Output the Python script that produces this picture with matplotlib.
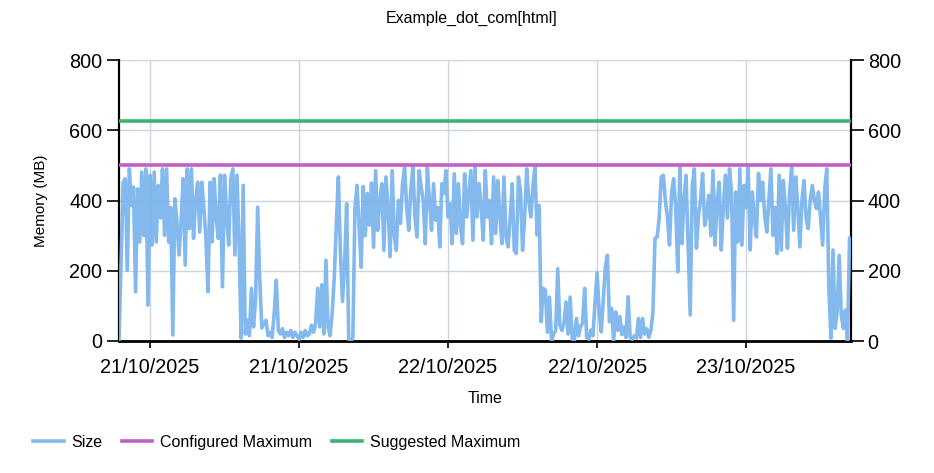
import matplotlib
matplotlib.use("Agg")
import matplotlib.pyplot as plt
import matplotlib.dates as mdates
import pandas as pd

plt.rcParams['font.family'] = ['Liberation Sans', 'DejaVu Sans']

title = "Example_dot_com[html]"
start_time = "2025-10-20 21:30"
interval = "10min"
configured_max = 500
suggested_max = 625

size_values = [
    5, 230, 450, 462, 201, 490, 386, 438, 140, 433, 282, 481,
    300, 490, 102, 472, 273, 481, 282, 443, 350, 490, 301, 490,
    282, 380, 17, 405, 339, 245, 339, 462, 216, 490, 320, 490,
    292, 400, 452, 310, 452, 380, 292, 140, 452, 282, 462, 350,
    292, 472, 154, 472, 360, 273, 462, 490, 245, 472, 282, 8,
    443, 20, 60, 15, 150, 40, 120, 381, 178, 37, 50, 59,
    15, 25, 10, 80, 173, 30, 20, 35, 10, 25, 15, 30,
    10, 25, 15, 5, 25, 10, 30, 15, 20, 45, 25, 50,
    150, 40, 160, 20, 230, 40, 15, 80, 178, 330, 467, 250,
    112, 216, 391, 5, 0, 10, 377, 443, 330, 210, 440, 300,
    420, 330, 450, 267, 485, 315, 400, 448, 258, 467, 380, 240,
    485, 300, 258, 400, 335, 448, 495, 380, 315, 430, 495, 353,
    296, 485, 440, 400, 277, 495, 400, 315, 448, 344, 380, 268,
    448, 420, 485, 353, 390, 277, 476, 306, 448, 330, 277, 476,
    353, 420, 485, 287, 495, 353, 448, 380, 287, 485, 353, 400,
    277, 467, 306, 457, 360, 277, 467, 296, 268, 350, 448, 258,
    249, 467, 429, 258, 350, 490, 400, 353, 440, 495, 302, 386,
    55, 150, 145, 25, 125, 0, 20, 30, 206, 46, 30, 50,
    111, 20, 125, 5, 0, 64, 15, 40, 52, 150, 10, 5,
    31, 15, 107, 194, 88, 26, 116, 210, 244, 55, 93, 0,
    83, 30, 70, 18, 40, 10, 126, 10, 5, 15, 8, 64,
    10, 64, 20, 35, 10, 30, 83, 292, 296, 348, 467, 472,
    400, 352, 273, 420, 462, 380, 197, 495, 277, 400, 472, 268,
    74, 440, 490, 264, 357, 400, 477, 329, 360, 415, 300, 485,
    273, 400, 452, 259, 380, 472, 350, 490, 420, 59, 424, 282,
    490, 273, 443, 380, 495, 259, 424, 350, 296, 477, 400, 452,
    357, 310, 400, 490, 301, 380, 249, 472, 259, 457, 380, 264,
    420, 495, 315, 467, 380, 268, 400, 457, 350, 320, 400, 443,
    400, 377, 424, 350, 273, 433, 490, 150, 8, 259, 36, 83,
    244, 74, 36, 88, 0, 292,
]

y_ticks = [0, 200, 400, 600, 800]

times = pd.date_range(start=start_time, periods=len(size_values), freq=interval)
t0 = times[0]
t_end = t0 + pd.Timedelta(hours=58.95)

fig = plt.figure(figsize=(9.34, 4.73), dpi=100)
ax = fig.add_axes([119/934, 1 - 341/473, (851-119)/934, (341-60)/473])

grid_color = '#ccd4e0'
ax.plot(times, size_values, color='#7cb5ec', lw=2.6, alpha=0.95, label='Size', zorder=3,
        solid_joinstyle='round')
ax.plot([t0, t_end], [configured_max, configured_max], color='#c060c8', lw=2.6,
        label='Configured Maximum', zorder=4)
ax.plot([t0, t_end], [suggested_max, suggested_max], color='#3cb371', lw=2.6,
        label='Suggested Maximum', zorder=4)

ax.set_xlim(t0, t_end)
ax.set_ylim(0, 800)
ax.set_yticks(y_ticks)
ax.xaxis.set_major_locator(mdates.HourLocator(byhour=[0, 12]))
ax.xaxis.set_major_formatter(mdates.DateFormatter('%d/%m/%Y'))

ax.grid(True, color=grid_color, lw=1, zorder=0)
ax.set_axisbelow(True)

for s in ['left', 'right', 'bottom']:
    ax.spines[s].set_color('black')
    ax.spines[s].set_linewidth(1.6)
ax.spines['bottom'].set_linewidth(2)
ax.spines['top'].set_visible(False)

ax.tick_params(axis='y', which='both', direction='out', length=9, width=1.2,
               labelsize=14.3, pad=3, colors='black')
ax.tick_params(axis='x', direction='out', length=5, width=1.2, labelsize=14.3, pad=7)

ax2 = ax.twinx()
ax2.set_ylim(0, 800)
ax2.set_yticks(y_ticks)
ax2.tick_params(axis='y', direction='out', length=9, width=1.2, labelsize=14.3, pad=3)
for s in ax2.spines.values():
    s.set_visible(False)

ax.set_ylabel('Memory (MB)', fontsize=11, labelpad=15)
ax.set_xlabel('Time', fontsize=11.5, labelpad=10)
fig.text(472/934, 1 - 18/473, title, ha='center', va='center', fontsize=11.5)

fig.legend(loc='center left', bbox_to_anchor=(19/934, 1 - 442/473), ncol=3,
           frameon=False, fontsize=11.5, handlelength=1.9, handletextpad=0.5,
           columnspacing=1.2)

fig.savefig('out.png', dpi=100)
